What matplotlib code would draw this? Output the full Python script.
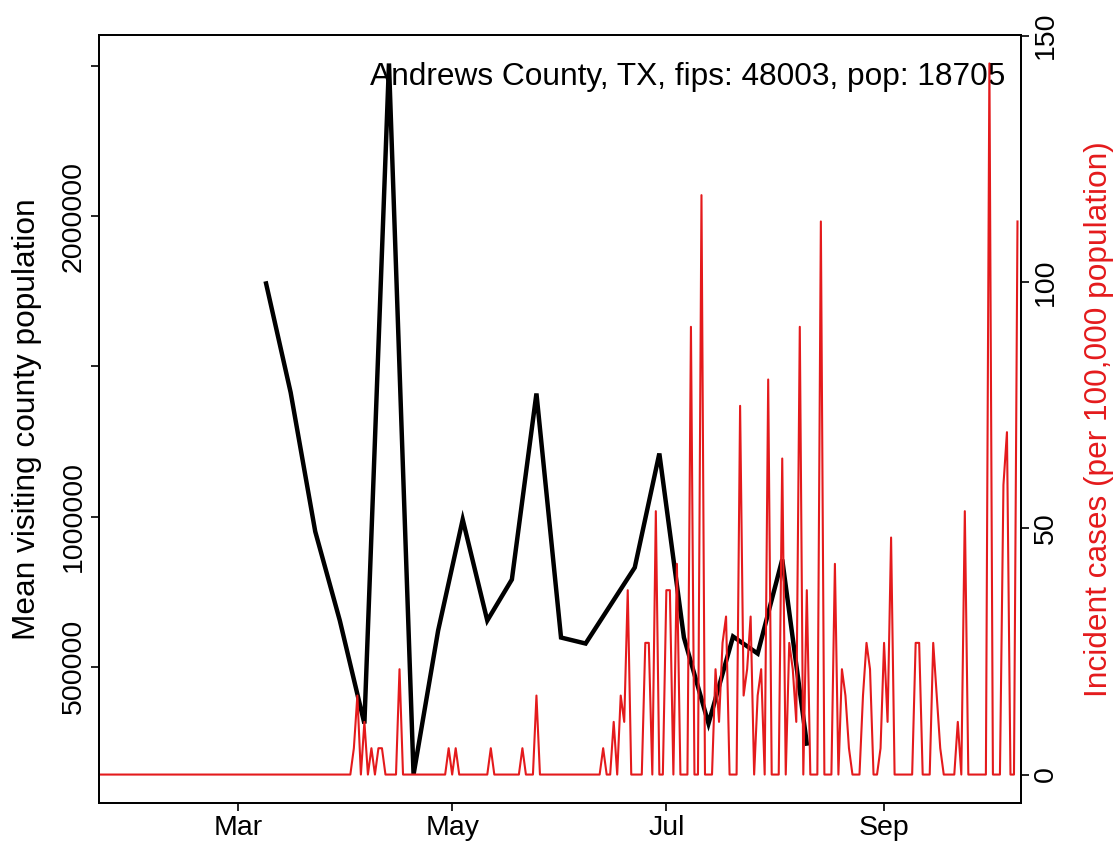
import numpy as np
import pandas as pd
import matplotlib
matplotlib.use('Agg')
import matplotlib.pyplot as plt

plt.rcParams['font.family'] = ['Liberation Sans', 'DejaVu Sans']

# ---- data -------------------------------------------------------------------
TITLE = "Andrews County, TX, fips: 48003, pop: 18705"
POP = 18705

# weekly mean visiting county population (weeks starting Mon 2020-03-09)
week_start = "2020-03-09"
visitors = [1776667, 1413333, 950000, 653333, 310000, 2510000, 140000,
            620000, 990000, 653333, 790000, 1410000, 596667, 576667,
            703333, 830000, 1210000, 596667, 310000, 600000, 543333,
            856667, 243333]

# daily new cases (counts), 2020-01-22 .. 2020-10-09
cases_jan = [0, 0, 0, 0, 0, 0, 0, 0, 0, 0]
cases_feb = [0, 0, 0, 0, 0, 0, 0, 0, 0, 0, 0, 0, 0, 0, 0,
             0, 0, 0, 0, 0, 0, 0, 0, 0, 0, 0, 0, 0, 0]
cases_mar = [0, 0, 0, 0, 0, 0, 0, 0, 0, 0, 0, 0, 0, 0, 0, 0,
             0, 0, 0, 0, 0, 0, 0, 0, 0, 0, 0, 0, 0, 0, 0]
cases_apr = [0, 0, 1, 3, 0, 2, 0, 1, 0, 1, 1, 0, 0, 0, 0,
             4, 0, 0, 0, 0, 0, 0, 0, 0, 0, 0, 0, 0, 0, 1]
cases_may = [0, 1, 0, 0, 0, 0, 0, 0, 0, 0, 0, 1, 0, 0, 0, 0,
             0, 0, 0, 0, 1, 0, 0, 0, 3, 0, 0, 0, 0, 0, 0]
cases_jun = [0, 0, 0, 0, 0, 0, 0, 0, 0, 0, 0, 0, 1, 0, 0,
             2, 0, 3, 2, 7, 0, 0, 0, 0, 5, 5, 0, 10, 0, 0]
cases_jul = [7, 7, 0, 8, 0, 0, 0, 17, 0, 0, 22, 0, 0, 0, 4, 2,
             5, 6, 0, 0, 0, 14, 3, 4, 6, 0, 3, 4, 0, 15, 0]
cases_aug = [0, 0, 12, 0, 5, 4, 2, 17, 0, 7, 0, 0, 0, 21, 0, 0,
             0, 8, 0, 4, 3, 1, 0, 0, 0, 3, 5, 4, 0, 0, 1]
cases_sep = [5, 2, 9, 0, 0, 0, 0, 0, 0, 5, 5, 0, 0, 0, 5,
             3, 1, 0, 0, 0, 0, 2, 0, 10, 0, 0, 0, 0, 0, 0]
cases_oct = [27, 0, 0, 0, 11, 13, 0, 0, 21]

month_ticks = ["2020-03-01", "2020-05-01", "2020-07-01", "2020-09-01"]
month_labels = ["Mar", "May", "Jul", "Sep"]
left_ticks = [500000, 1000000, 1500000, 2000000, 2500000]
left_labels = ["500000", "1000000", "", "2000000", ""]
right_ticks = [0, 50, 100, 150]

# ---- prep -------------------------------------------------------------------
week_dates = pd.date_range(week_start, periods=len(visitors), freq="7D")
counts = np.array(cases_jan + cases_feb + cases_mar + cases_apr + cases_may +
                  cases_jun + cases_jul + cases_aug + cases_sep + cases_oct)
days = pd.date_range("2020-01-22", periods=len(counts), freq="D")
incid = counts / POP * 100000


def r_range(v):
    # R's default 4% axis padding
    lo, hi = np.min(v), np.max(v)
    pad = 0.04 * (hi - lo)
    return lo - pad, hi + pad


RED = "#E41A1C"
FS_TICK = 20.5
FS_LAB = 22.8

fig = plt.figure(figsize=(11.19, 8.51), dpi=100)
ax = fig.add_axes([99 / 1119, 48 / 851, 922 / 1119, 768 / 851])

ax.plot(week_dates, visitors, color="black", lw=3.2, solid_joinstyle="miter")
ax.set_ylim(*r_range(visitors))
ax.set_yticks(left_ticks)
ax.set_yticklabels(left_labels, rotation=90, va="center")
ax.set_xticks(pd.to_datetime(month_ticks))
ax.set_xticklabels(month_labels)
ax.set_xlim(days[0] - pd.Timedelta(hours=14), days[-1] + pd.Timedelta(hours=24))

ax2 = ax.twinx()
ax2.plot(days, incid, color=RED, lw=1.5)
ax2.set_ylim(*r_range(incid))
ax2.set_yticks(right_ticks)
ax2.set_yticklabels([str(t) for t in right_ticks], rotation=90, va="center")

for a in (ax, ax2):
    a.tick_params(length=5.8, width=1.2, labelsize=FS_TICK, pad=3,
                  direction="out")
    for s in a.spines.values():
        s.set_linewidth(1.3)

ax.text(0.983, 0.935, TITLE, transform=ax.transAxes, ha="right",
        va="baseline", fontsize=FS_LAB)

fig.text(27 / 1119, 1 - 419 / 851, "Mean visiting county population",
         rotation=90, ha="center", va="center", fontsize=FS_LAB)
fig.text(1099 / 1119, 1 - 419 / 851, "Incident cases (per 100,000 population)",
         rotation=90, ha="center", va="center", fontsize=FS_LAB, color=RED)

fig.savefig("out.png", dpi=100)
